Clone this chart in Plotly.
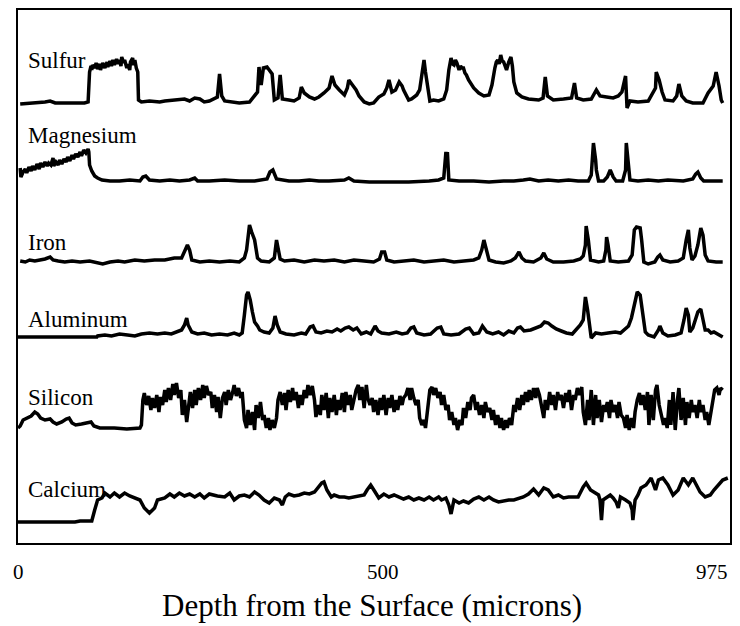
import plotly.graph_objects as go

# ---- data: (depth in microns, relative intensity) ----
sulfur = [(3,0),(23,1),(37,2),(44,3),(51,1),(71,1),(91,1),(96,2),(98,32),(100,38),(101,34),(102,39),
 (105,36),(107,41),(109,35),(112,40),(113,34),(116,41),(119,36),(122,42),(123,37),(126,43),(128,38),
 (130,44),(132,39),(135,45),(137,40),(139,44),(141,38),(142,47),(145,41),(146,44),(149,36),(150,40),
 (153,34),(154,42),(157,46),(158,39),(160,44),(162,36),(164,32),(165,4),(169,2),(180,3),(194,2),
 (201,3),(214,4),(228,5),(235,3),(242,6),(249,5),
 (255,2),(262,3),(269,5),(273,7),(276,30),(279,8),(283,3),(290,2),(303,1),(317,2),(324,9),(328,12),
 (330,37),(333,19),(336,36),(341,37),(344,34),(348,30),(351,4),(356,6),(359,29),(362,5),(371,4),
 (378,3),(385,6),(388,17),(392,11),(399,7),(406,5),(412,7),(419,11),(426,16),(430,28),(434,19),
 (440,14),(447,9),(451,16),(453,24),(458,19),(463,14),(467,8),(474,2),(481,0),(487,1),(494,7),
 (501,10),(505,16),(508,24),(512,12),(517,14),(522,22),(526,18),(528,14),(535,4),(539,5),(546,9),
 (550,14),(553,29),(556,44),(558,32),(561,14),(564,3),(569,4),(576,3),(583,5),(587,14),(590,34),
 (593,46),(595,40),(597,39),(599,44),(601,41),(604,34),(606,38),(608,36),(610,36),(612,31),(614,29),
 (617,24),(624,16),(631,11),(638,8),
 (645,9),(649,19),(653,36),(655,42),(657,44),(659,40),(661,49),(663,43),(665,42),(667,37),(669,34),
 (672,42),(675,47),(677,38),(679,22),
 (683,11),(690,7),(699,5),(713,4),(719,6),(722,27),(725,8),(733,4),(747,5),(758,6),(762,21),(765,6),
 (774,4),(785,5),(792,14),(797,8),(806,7),(815,6),(822,8),(827,12),(832,28),(834,-4),(838,3),(849,2),
 (863,3),(868,10),(873,16),(874,32),(878,24),(882,12),(886,4),(897,3),(902,8),(905,20),(909,8),
 (915,3),(924,1),(938,1),(945,11),(952,18),(956,32),(960,18),(963,4),(965,1)]

magnesium = [(3,13),(4,4),(7,9),(10,12),(12,8),(15,14),(18,10),(20,15),(23,11),(26,17),(29,12),
 (31,18),(34,14),(37,19),(40,15),(42,18),(45,16),(48,23),(49,15),(52,19),(55,16),(57,21),(60,17),
 (63,22),(66,19),(68,24),(71,20),(74,26),(76,22),(79,27),(82,24),(85,29),(87,25),(90,31),(93,28),
 (96,32),(97,29),(98,16),(101,10),(105,5),(109,3),(115,1),(126,0),(139,0),(153,1),(167,0),(171,4),
 (175,5),(180,1),(194,0),(208,1),(221,0),(235,1),
 (242,3),(246,0),(262,0),(283,1),(303,0),(324,0),(341,2),(345,9),(349,11),(354,2),(362,1),(371,0),
 (385,0),(399,1),(412,0),(426,0),(447,1),(453,3),(460,0),(481,-1),(508,-1),(535,-1),(563,0),(576,1),
 (583,3),(586,29),(587,23),(588,29),(590,1),(604,0),(624,0),(645,-1),(665,0),(679,0),(692,1),(701,2),
 (713,0),(726,1),(740,0),(754,1),(767,0),(781,0),(785,6),(788,38),(791,21),(792,11),(795,0),(802,0),
 (807,4),(811,11),(815,4),(819,0),(828,0),(832,11),(833,38),(836,13),(838,1),(849,0),(863,1),(877,0),
 (890,1),(911,0),(924,2),(928,7),(931,9),(935,3),(939,0),(952,0),(965,0)]

iron = [(3,1),(10,0),(16,2),(23,1),(30,2),(37,3),(44,5),(48,2),(55,1),(64,0),(74,1),(85,0),(98,1),
 (108,-1),(116,-2),(126,0),(137,1),(146,0),(160,2),(173,1),(187,2),(201,2),(214,4),(224,4),(228,10),
 (232,17),(235,12),(238,2),(249,0),(262,1),(276,0),(290,1),(303,0),(310,4),(313,12),(317,37),(320,30),
 (324,22),(328,4),(333,1),(344,0),(351,4),(354,22),(356,12),(359,3),(365,1),(378,2),(392,0),(406,2),
 (419,1),(433,2),(447,0),(460,2),(474,1),(487,0),(495,3),(498,10),(502,10),(505,2),(515,0),(528,1),
 (542,2),(556,0),(569,1),(583,2),(597,0),(610,1),(624,2),(631,4),(635,12),(638,22),(641,12),(645,2),
 (654,0),(665,-1),(675,1),(681,4),(686,10),(690,4),(695,1),(706,0),(716,4),(720,9),(724,3),(733,0),
 (747,0),(761,1),(770,3),(774,6),(777,17),(778,36),(781,22),(784,2),(795,0),(802,1),(805,12),(806,25),
 (808,17),(811,1),(822,0),(836,1),(841,7),(844,32),(847,35),(852,34),(854,22),(857,0),(863,-2),
 (872,0),(876,5),(879,7),(883,2),(893,0),(904,1),(911,4),(915,22),(918,32),(920,14),(923,2),(927,6),
 (931,17),(935,34),(938,27),(941,7),(945,1),(956,0),(965,0)]

aluminum = [(0,0),(108,0),(109,1),(119,2),(128,1),(139,3),(150,2),(160,1),(169,3),(180,4),(191,3),
 (201,4),(210,3),(218,5),(224,7),(228,12),(231,19),(233,12),(238,5),(246,3),(255,4),(265,2),(276,3),
 (287,2),(296,4),(303,2),(307,4),(310,22),(313,42),(315,45),(318,37),(321,25),(324,15),(328,11),
 (331,7),(337,5),(344,4),(349,9),(352,21),(355,12),(359,5),(367,3),(378,2),(388,4),(394,3),(400,10),
 (404,11),(408,5),(415,4),(423,6),(430,5),(437,8),(442,6),(448,9),(453,10),(459,7),(464,9),(470,3),
 (477,5),(483,3),(489,11),(493,6),(498,4),(508,3),(518,5),(526,3),(533,4),(538,9),(542,10),(546,4),
 (556,2),(565,3),(574,9),(579,10),(583,3),(593,2),(604,3),(613,8),(618,9),(624,3),(631,4),(636,11),
 (642,5),(650,3),(658,5),(665,2),(672,6),(679,4),(684,9),(688,10),(693,6),(702,7),(708,9),(716,11),
 (721,15),(726,14),(731,11),(737,8),(744,6),(751,4),(759,3),(765,8),(770,12),(774,17),(777,40),
 (780,27),(783,7),(785,-1),(791,4),(799,3),(808,4),(818,5),(825,4),(830,7),(836,11),(840,19),(844,32),
 (848,45),(852,42),(856,22),(859,5),(863,2),(871,0),(877,7),(879,11),(883,4),(890,1),(900,2),(908,4),
 (912,17),(915,29),(918,22),(920,5),(924,9),(927,17),(931,25),(935,28),(938,19),(941,7),(945,7),
 (949,4),(953,5),(959,2),(965,0)]

silicon = [(0,0),(3,2),(7,8),(12,10),(18,12),(23,16),(27,14),(31,10),(37,8),(44,9),(48,6),(53,4),
 (60,6),(66,9),(70,10),(74,5),(79,3),(87,4),(96,6),(100,6),(104,2),(112,0),(132,0),(149,-1),(167,0),
 (169,3),(171,28),(173,35),(176,23),(179,32),(182,18),(184,30),(187,20),(190,33),(193,16),(195,31),
 (198,23),(201,38),(203,26),(206,40),(209,28),(212,44),(214,33),(217,45),(220,30),(223,38),(225,13),
 (228,28),(231,6),(234,28),(236,36),(239,20),(242,38),(244,23),(247,40),(250,28),(253,43),(255,30),
 (258,42),(261,33),(264,36),(266,20),(269,33),(272,16),(274,31),(277,10),(280,30),(283,36),(285,23),
 (288,38),(291,28),(294,36),(296,43),(299,32),(302,40),(305,30),(307,36),(310,8),(313,0),(315,18),
 (318,3),(321,16),(324,-2),(326,23),(329,10),(332,26),(335,8),(337,13),(340,0),(343,10),(345,-2),
 (348,8),(351,0),(354,10),(356,28),(359,36),(362,23),(365,35),(367,18),(370,38),(373,26),(376,40),
 (378,28),(381,36),(384,20),(386,33),(389,23),(392,38),(395,30),(397,43),(400,33),(403,42),(406,28),
 (408,11),(411,23),(414,13),(416,33),(419,18),(422,35),(425,10),(427,30),(430,16),(433,33),(436,13),
 (438,28),(441,18),(444,35),(447,16),(449,36),(452,23),(455,33),(457,18),(460,30),(463,38),(466,43),
 (468,28),(471,41),(474,20),(477,43),(479,30),(482,23),(485,30),(487,16),(490,28),(493,13),(496,30),
 (498,18),(501,33),(504,13),(507,30),(509,20),(512,33),(515,16),(518,28),(520,18),(523,32),(526,23),
 (528,30),(531,33),(534,40),(537,28),(539,40),(542,30),(545,23),(548,28),(550,10),(553,3),(556,8),
 (558,0),(561,23),(564,38),(567,41),(569,33),(572,40),(575,30),(578,36),(580,23),(583,33),(586,18),
 (589,23),(591,8),(594,16),(597,3),(599,10),(602,-2),(605,8),(608,3),(610,20),(613,10),(616,26),
 (619,18),(621,30),(624,33),(627,18),(629,26),(632,13),(635,23),(638,10),(640,26),(643,16),(646,20),
 (649,8),(651,18),(654,3),(657,13),(660,0),(662,10),(665,-2),(668,8),(670,0),(673,10),(676,3),(679,23),
 (681,16),(684,30),(687,18),(690,33),(692,23),(695,36),(698,26),(700,38),(703,28),(706,40),(709,30),
 (711,40),(714,33),(717,23),(720,10),(722,28),(725,18),(728,36),(731,23),(733,33),(736,18),(739,36),
 (741,28),(744,33),(747,20),(750,35),(752,26),(755,38),(758,18),(761,33),(763,28),(766,40),(769,33),
 (772,41),(774,16),(777,3),(780,28),(782,8),(785,38),(788,3),(791,33),(793,10),(796,28),(799,6),
 (802,23),(804,16),(807,26),(810,10),(812,28),(815,16),(818,23),(821,10),(823,26),(826,13),(829,10),
 (832,0),(834,13),(837,-2),(840,10),(843,0),(845,16),(848,28),(851,35),(853,23),(856,33),(859,18),
 (862,36),(864,3),(867,33),(870,8),(873,38),(875,43),(878,23),(881,13),(884,3),(886,10),(889,0),
 (892,28),(894,3),(897,36),(900,-2),(903,28),(905,40),(908,8),(911,30),(914,3),(916,26),(919,10),
 (922,28),(924,16),(927,23),(930,10),(933,28),(935,16),(938,23),(941,8),(943,16),(946,3),(949,18),
 (952,28),(954,38),(957,40),(960,33),(962,40),(965,38)]

calcium = [(0,0),(78,0),(85,1),(101,1),(105,12),(109,22),(115,24),(119,29),(126,25),(132,29),(139,25),
 (146,29),(153,26),(160,24),(167,22),(173,14),(180,9),(187,14),(191,22),(201,24),(208,28),(214,25),
 (221,29),(228,26),(235,28),(242,25),(249,28),(255,24),(262,28),(273,26),(283,25),(290,29),(296,22),
 (303,26),(310,27),(317,25),(324,30),(330,27),(337,22),(344,19),(351,24),(358,22),(362,17),(366,25),
 (371,28),(378,26),(385,27),(392,29),(399,28),(406,30),(412,35),(416,39),(419,40),(423,32),(429,25),
 (433,27),(440,25),(447,25),(453,24),(460,25),(467,26),(474,27),(478,32),(483,37),(489,30),(494,24),
 (501,28),(508,25),(515,27),(522,25),(528,23),(535,25),(542,22),(549,24),(556,22),(563,25),(569,22),
 (576,25),(580,22),(586,24),(590,17),(593,8),(597,22),(604,19),(610,21),(617,19),(624,23),(631,25),
 (638,22),(645,25),(651,22),(658,20),(665,21),(672,22),(679,22),(686,24),(692,25),(699,28),(706,33),
 (713,27),(720,34),(726,32),(733,25),(740,27),(747,24),(754,25),(761,25),(767,25),(774,35),(778,39),
 (784,32),(791,29),(795,27),(797,22),(799,2),(801,22),(806,25),(811,27),(815,24),(819,20),(822,14),
 (825,25),(832,22),(838,19),(841,12),(842,2),(845,22),(849,27),(853,34),(860,37),(867,44),(873,32),
 (877,42),(883,44),(890,37),(897,27),(904,32),(911,44),(918,37),(924,44),(929,37),(934,30),(941,25),
 (948,27),(953,32),(959,37),(965,42),(972,44)]

elements = ["Sulfur", "Magnesium", "Iron", "Aluminum", "Silicon", "Calcium"]
series = [sulfur, magnesium, iron, aluminum, silicon, calcium]

# ---- layout: vertical stacking offsets and label positions ----
offsets = [439, 362, 281, 206, 115, 21]
label_y = [483, 408, 301, 224, 146, 54]

x_ticks = [0, 500, 975]

FONT = "Liberation Serif, Times New Roman, serif"

fig = go.Figure()
for name, pts, off in zip(elements, series, offsets):
    xs = [p[0] for p in pts]
    ys = [p[1] + off for p in pts]
    fig.add_trace(go.Scatter(x=xs, y=ys, mode="lines", name=name,
                             line=dict(color="black", width=3.5), showlegend=False,
                             hoverinfo="skip"))

for name, ly in zip(elements, label_y):
    fig.add_annotation(x=11, y=ly, xref="x", yref="y", text=name, showarrow=False,
                       xanchor="left", yanchor="middle",
                       font=dict(family=FONT, size=23, color="black"))

for t in x_ticks:
    fig.add_annotation(x=t, y=-0.054, xref="x", yref="paper", text=str(t), showarrow=False,
                       xanchor="right" if t == x_ticks[-1] else "center", yanchor="middle",
                       font=dict(family=FONT, size=21, color="black"))

fig.add_annotation(x=0.497, y=-0.117, xref="paper", yref="paper",
                   text="Depth from the Surface (microns)",
                   showarrow=False, xanchor="center", yanchor="middle",
                   font=dict(family=FONT, size=31, color="black"))

fig.update_xaxes(range=[0, 975], showgrid=False, zeroline=False, showticklabels=False,
                 ticks="", showline=True, mirror=True, linecolor="black", linewidth=2)
fig.update_yaxes(range=[0, 533], showgrid=False, zeroline=False, showticklabels=False,
                 ticks="", showline=True, mirror=True, linecolor="black", linewidth=2)

fig.update_layout(width=740, height=626, margin=dict(l=18, r=8, t=10, b=83),
                  paper_bgcolor="white", plot_bgcolor="white")

fig.write_html("out.html")
